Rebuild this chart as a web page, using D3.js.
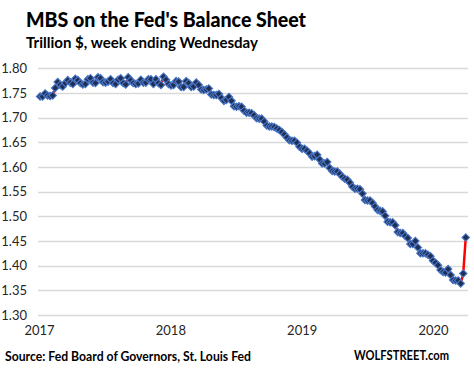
<!DOCTYPE html>
<html>
<head>
<meta charset="utf-8">
<script src="https://cdn.jsdelivr.net/npm/d3@7"></script>
<style>
  html, body { margin: 0; padding: 0; background: #fff; }
  svg { display: block; }
  text { font-family: Lato, "Open Sans", sans-serif; }
</style>
</head>
<body>
<svg id="chart" width="474" height="376"></svg>
<script>
// ---- Data (weekly, week ending Wednesday, starting 2017-01-04) ----
const firstWeek = "2017-01-04";
const mbsValues = [
  1.743, 1.743, 1.749, 1.745, 1.744, 1.745, 1.760, 1.772, 1.766, 1.763,
  1.770, 1.776, 1.771, 1.768, 1.779, 1.776, 1.770, 1.767, 1.768, 1.778,
  1.780, 1.771, 1.770, 1.782, 1.780, 1.772, 1.771, 1.773, 1.778, 1.770,
  1.768, 1.777, 1.780, 1.770, 1.767, 1.782, 1.776, 1.770, 1.768, 1.769,
  1.777, 1.771, 1.771, 1.778, 1.778, 1.768, 1.778, 1.770, 1.766, 1.783,
  1.777, 1.768, 1.765, 1.766, 1.774, 1.773, 1.762, 1.762, 1.774, 1.770,
  1.762, 1.763, 1.771, 1.766, 1.757, 1.756, 1.757, 1.759, 1.747, 1.746,
  1.746, 1.748, 1.740, 1.734, 1.736, 1.742, 1.734, 1.723, 1.722, 1.723,
  1.722, 1.714, 1.710, 1.710, 1.709, 1.705, 1.699, 1.698, 1.698, 1.692,
  1.684, 1.682, 1.682, 1.681, 1.678, 1.675, 1.671, 1.666, 1.660, 1.654,
  1.653, 1.653, 1.649, 1.641, 1.637, 1.637, 1.633, 1.628, 1.621, 1.622,
  1.625, 1.615, 1.607, 1.607, 1.610, 1.598, 1.592, 1.591, 1.591, 1.586,
  1.580, 1.576, 1.574, 1.568, 1.560, 1.556, 1.556, 1.555, 1.546, 1.533,
  1.532, 1.532, 1.527, 1.520, 1.513, 1.511, 1.510, 1.501, 1.489, 1.488,
  1.488, 1.482, 1.468, 1.466, 1.466, 1.460, 1.456, 1.444, 1.444, 1.450,
  1.437, 1.425, 1.425, 1.425, 1.422, 1.419, 1.410, 1.406, 1.401, 1.391,
  1.387, 1.386, 1.393, 1.381, 1.371, 1.370, 1.370, 1.364, 1.384, 1.457
];
const yTicks = [1.30, 1.35, 1.40, 1.45, 1.50, 1.55, 1.60, 1.65, 1.70, 1.75, 1.80];
const xTickLabels = ["2017", "2018", "2019", "2020"];
const titleText = "MBS on the Fed's Balance Sheet";
const subtitleText = "Trillion $, week ending Wednesday";
const sourceText = "Source: Fed Board of Governors, St. Louis Fed";
const brandText = "WOLFSTREET.com";

// ---- Build ----
const parse = d3.utcParse("%Y-%m-%d");
const start = parse(firstWeek);
const data = mbsValues.map((v, i) => ({ date: d3.utcDay.offset(start, 7 * i), value: v }));

const svg = d3.select("#chart");

const x = d3.scaleUtc()
  .domain([parse("2017-01-01"), parse("2020-01-01")])
  .range([39, 433]);
const y = d3.scaleLinear()
  .domain([1.30, 1.80])
  .range([315, 68.3]);

// gridlines
svg.append("g")
  .selectAll("line")
  .data(yTicks)
  .join("line")
  .attr("x1", 38).attr("x2", 468)
  .attr("y1", d => Math.round(y(d)) + 0.5)
  .attr("y2", d => Math.round(y(d)) + 0.5)
  .attr("stroke", "#d9d9d9")
  .attr("stroke-width", 1.3);

// y-axis labels
const yAxis = d3.axisLeft(y).tickValues(yTicks).tickFormat(d3.format(".2f")).tickSize(0).tickPadding(0);
const gy = svg.append("g").attr("transform", "translate(27,0)").call(yAxis);
gy.select(".domain").remove();
gy.selectAll("text")
  .attr("fill", "#262626")
  .style("font-family", "Lato, 'Open Sans', sans-serif")
  .style("font-size", "13px");

// x-axis labels
const yearDates = xTickLabels.map(t => parse(t + "-01-01"));
const xAxis = d3.axisBottom(x).tickValues(yearDates).tickFormat(d3.utcFormat("%Y")).tickSize(0).tickPadding(0);
const gx = svg.append("g").attr("transform", "translate(0,326)").call(xAxis);
gx.select(".domain").remove();
gx.selectAll("text")
  .attr("fill", "#262626")
  .attr("dy", "0.71em")
  .style("font-family", "Lato, 'Open Sans', sans-serif")
  .style("font-size", "13px");

// line
const line = d3.line().x(d => x(d.date)).y(d => y(d.value));
svg.append("path")
  .datum(data)
  .attr("d", line)
  .attr("fill", "none")
  .attr("stroke", "#ff0000")
  .attr("stroke-width", 2.5)
  .attr("stroke-linejoin", "round");

// markers (diamonds)
const sym = d3.symbol().type(d3.symbolSquare).size(28);
svg.append("g")
  .selectAll("path")
  .data(data)
  .join("path")
  .attr("d", sym)
  .attr("transform", d => `translate(${x(d.date)},${y(d.value)}) rotate(45)`)
  .attr("fill", "#1f2f55")
  .attr("stroke", "#4a78c8")
  .attr("stroke-width", 1.1);

// titles
svg.append("text")
  .attr("x", 26).attr("y", 27)
  .attr("font-weight", "900")
  .attr("font-size", 20)
  .attr("fill", "#000")
  .attr("textLength", 280).attr("lengthAdjust", "spacingAndGlyphs")
  .text(titleText);
svg.append("text")
  .attr("x", 26).attr("y", 48)
  .attr("font-weight", "bold")
  .attr("font-size", 14.5)
  .attr("fill", "#000")
  .attr("textLength", 232).attr("lengthAdjust", "spacingAndGlyphs")
  .text(subtitleText);

// source & brand
svg.append("text")
  .attr("x", 5).attr("y", 361)
  .attr("font-weight", "bold")
  .attr("font-size", 13)
  .attr("fill", "#000")
  .attr("textLength", 246).attr("lengthAdjust", "spacingAndGlyphs")
  .text(sourceText);
svg.append("text")
  .attr("x", 354).attr("y", 360)
  .attr("font-weight", "bold")
  .attr("font-size", 13)
  .attr("fill", "#000")
  .attr("textLength", 95).attr("lengthAdjust", "spacingAndGlyphs")
  .text(brandText);
</script>
</body>
</html>
